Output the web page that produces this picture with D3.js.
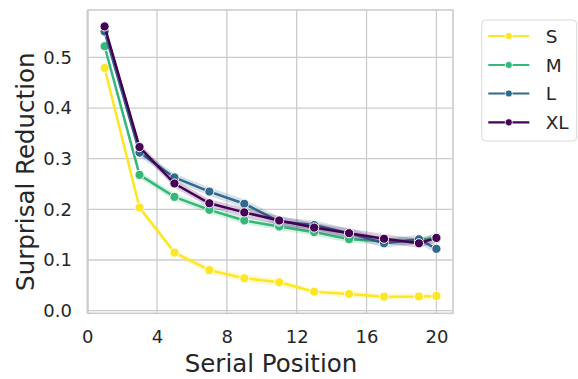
<!DOCTYPE html>
<html><head><meta charset="utf-8">
<script src="https://cdn.jsdelivr.net/npm/d3@7"></script>
<style>body{margin:0;background:#fff;} svg{display:block;font-family:"DejaVu Sans",sans-serif;}</style>
</head><body>
<svg id="c" width="578" height="379"></svg>
<script>
const positions = [1,3,5,7,9,11,13,15,17,19,20];
const seriesNames = ["S","M","L","XL"];
const colors = ["#fde725","#35b779","#31688e","#440154"];
const valS  = [0.479,0.2035,0.1146,0.080,0.064,0.056,0.0375,0.033,0.0277,0.028,0.029];
const valM  = [0.522,0.268,0.2246,0.199,0.178,0.166,0.155,0.141,0.137,0.138,0.145];
const valL  = [0.551,0.312,0.263,0.235,0.211,0.176,0.169,0.153,0.133,0.141,0.122];
const valXL = [0.561,0.323,0.251,0.212,0.194,0.178,0.164,0.153,0.142,0.133,0.1436];
const ciS  = [0.006,0.006,0.006,0.007,0.007,0.007,0.006,0.006,0.006,0.006,0.006];
const ciM  = [0.006,0.007,0.007,0.007,0.007,0.007,0.007,0.007,0.007,0.007,0.007];
const ciL  = [0.006,0.008,0.008,0.008,0.009,0.009,0.009,0.009,0.009,0.009,0.009];
const ciXL = [0.006,0.008,0.008,0.008,0.009,0.009,0.009,0.009,0.009,0.009,0.009];
const yTicks = [0,0.1,0.2,0.3,0.4,0.5];
const xTicks = [0,4,8,12,16,20];

const values = [valS,valM,valL,valXL];
const cis = [ciS,ciM,ciL,ciXL];

const svg = d3.select("#c");
const L=88, R=453, T=10, B=313.3;
const x = d3.scaleLinear().domain([0.05,20.95]).range([L,R]);
const y = d3.scaleLinear().domain([-0.0052,0.5935]).range([B,T]);
const txt = "#262626", grid="#cccccc";

// grid
svg.append("g").selectAll("line").data(yTicks).join("line")
  .attr("x1",L).attr("x2",R).attr("y1",d=>y(d)).attr("y2",d=>y(d))
  .attr("stroke",grid).attr("stroke-width",1.3);
svg.append("g").selectAll("line").data(xTicks).join("line")
  .attr("y1",T).attr("y2",B).attr("x1",d=>x(d)).attr("x2",d=>x(d))
  .attr("stroke",grid).attr("stroke-width",1.3);

// axes labels via d3 axes
const ya = svg.append("g").attr("transform",`translate(${L},0)`)
  .call(d3.axisLeft(y).tickValues(yTicks).tickFormat(d3.format(".1f")).tickSize(0).tickPadding(16));
const xa = svg.append("g").attr("transform",`translate(0,${B})`)
  .call(d3.axisBottom(x).tickValues(xTicks).tickFormat(d3.format("d")).tickSize(0).tickPadding(16.5));
[ya,xa].forEach(a=>{a.select(".domain").remove();
  a.selectAll("text").attr("fill",txt).style("font-size","18px").style("font-family","DejaVu Sans");});

// spines
svg.append("rect").attr("x",L).attr("y",T).attr("width",R-L).attr("height",B-T)
  .attr("fill","none").attr("stroke",grid).attr("stroke-width",1.6);

// bands + lines
const plot = svg.append("g");
values.forEach((vals,i)=>{
  const pts = positions.map((p,j)=>({p, v:vals[j], c:cis[i][j]}));
  plot.append("path").datum(pts)
    .attr("d", d3.area().x(d=>x(d.p)).y0(d=>y(d.v-d.c)).y1(d=>y(d.v+d.c)))
    .attr("fill",colors[i]).attr("fill-opacity",0.2);
  plot.append("path").datum(pts)
    .attr("d", d3.line().x(d=>x(d.p)).y(d=>y(d.v)))
    .attr("fill","none").attr("stroke",colors[i]).attr("stroke-width",2.5);
  plot.append("g").selectAll("circle").data(pts).join("circle")
    .attr("cx",d=>x(d.p)).attr("cy",d=>y(d.v)).attr("r",4.6)
    .attr("fill",colors[i]).attr("stroke","#fff").attr("stroke-width",1);
});

// axis titles
svg.append("text").attr("x",(L+R)/2+0.5).attr("y",372).attr("text-anchor","middle")
  .attr("fill",txt).style("font-size","24.5px").text("Serial Position");
svg.append("text").attr("transform","translate(33.5,171.7) rotate(-90)").attr("text-anchor","middle")
  .attr("fill",txt).style("font-size","24.5px").text("Surprisal Reduction");

// legend
const lg = svg.append("g");
lg.append("rect").attr("x",481.7).attr("y",20).attr("width",95).attr("height",121).attr("rx",4)
  .attr("fill","#fff").attr("stroke","#d9d9d9").attr("stroke-width",1);
const ly = [36,65,93.5,122.3];
seriesNames.forEach((n,i)=>{
  lg.append("line").attr("x1",488.3).attr("x2",529.3).attr("y1",ly[i]).attr("y2",ly[i])
    .attr("stroke",colors[i]).attr("stroke-width",2.2);
  lg.append("circle").attr("cx",508.8).attr("cy",ly[i]).attr("r",3.6).attr("fill",colors[i])
    .attr("stroke","#fff").attr("stroke-width",0.8);
  lg.append("text").attr("x",545.7).attr("y",ly[i]).attr("dy","0.36em").attr("fill",txt)
    .style("font-size","18.5px").text(n);
});
</script>
</body></html>
